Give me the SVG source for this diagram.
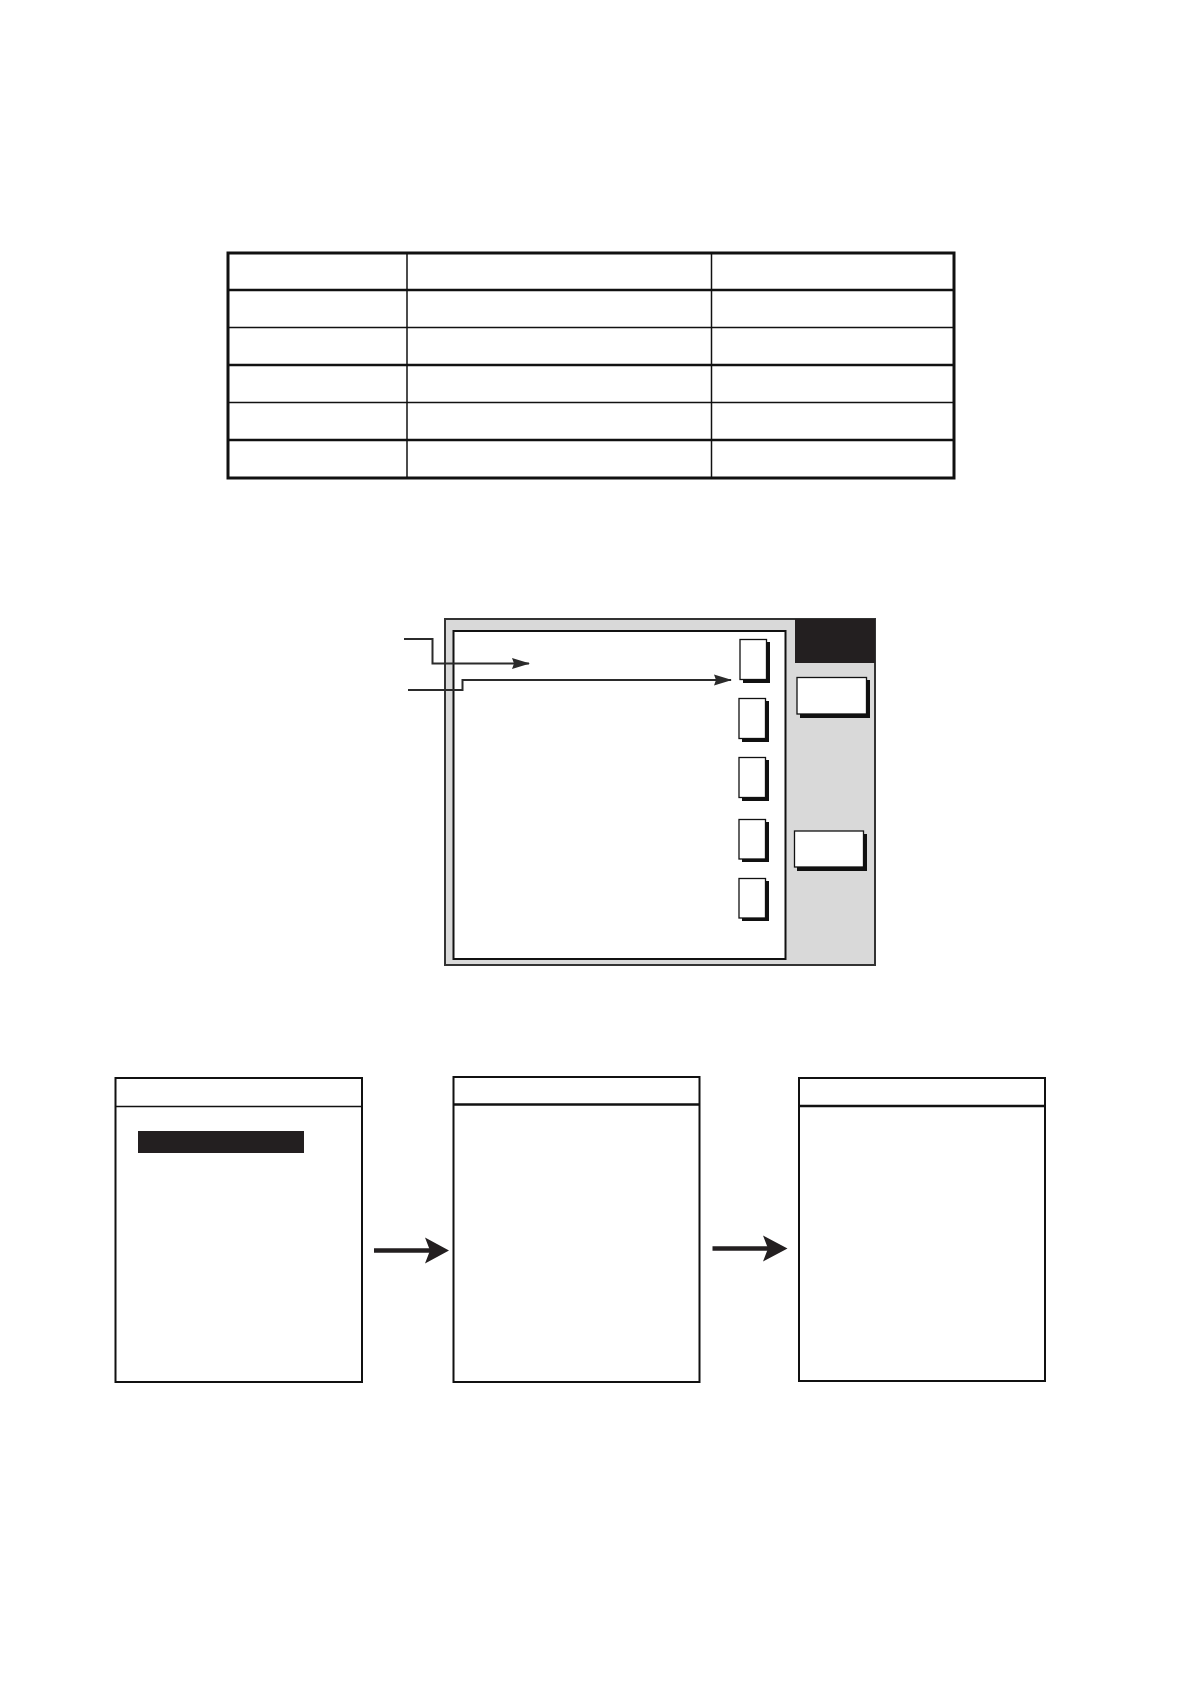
<svg xmlns="http://www.w3.org/2000/svg" width="1190" height="1684" viewBox="0 0 1190 1684">
<style>
.thin{stroke:#111;stroke-width:1.5;fill:none}
.thick{stroke:#111;stroke-width:2.6;fill:none}
.btn{fill:#fff;stroke:#111;stroke-width:1.3}
.shadow{fill:#111}
.panel{fill:#fff;stroke:#111;stroke-width:2}
.lead{stroke:#2b2b2b;stroke-width:2;fill:none}
</style>
<defs>
<marker id="ah" markerWidth="18" markerHeight="12" refX="17" refY="6" orient="auto" markerUnits="userSpaceOnUse">
<path d="M0,0.5 L18,6 L0,11.5 L2,6 Z" fill="#2b2b2b"/>
</marker>
</defs>
<rect width="1190" height="1684" fill="#fff"/>
<g id="table">
<rect x="228" y="253" width="726" height="225" fill="#fff" stroke="#111" stroke-width="3"/>
<line class="thick" x1="228" y1="290" x2="954" y2="290"/>
<line class="thin" x1="228" y1="327.5" x2="954" y2="327.5"/>
<line class="thick" x1="228" y1="365" x2="954" y2="365"/>
<line class="thin" x1="228" y1="402.5" x2="954" y2="402.5"/>
<line class="thick" x1="228" y1="440" x2="954" y2="440"/>
<line class="thin" x1="407" y1="253" x2="407" y2="478"/>
<line class="thin" x1="711.5" y1="253" x2="711.5" y2="478"/>
</g>
<g id="screen">
<rect x="445" y="619" width="430" height="346" fill="#d9d9d9" stroke="#333" stroke-width="2"/>
<rect x="795" y="619" width="80" height="44" fill="#231f20"/>
<rect x="453.5" y="631" width="332" height="328" fill="#fff" stroke="#111" stroke-width="2"/>
</g>
<g id="btn1"><rect class="shadow" x="743" y="642" width="27" height="41"/><rect class="btn" x="740" y="639.5" width="26.5" height="40"/></g>
<g id="btn2"><rect class="shadow" x="742" y="701" width="27" height="41"/><rect class="btn" x="739" y="698.5" width="26.5" height="40"/></g>
<g id="btn3"><rect class="shadow" x="742" y="760" width="27" height="41"/><rect class="btn" x="739" y="757.5" width="26.5" height="40"/></g>
<g id="btn4"><rect class="shadow" x="742" y="822" width="27" height="40"/><rect class="btn" x="739" y="819.5" width="26.5" height="39.5"/></g>
<g id="btn5"><rect class="shadow" x="742" y="881" width="27" height="40"/><rect class="btn" x="739" y="878.5" width="26.5" height="39.5"/></g>
<g id="btn6"><rect class="shadow" x="800" y="680" width="70" height="38"/><rect class="btn" x="797" y="677.5" width="69.5" height="36.5"/></g>
<g id="btn7"><rect class="shadow" x="797" y="834" width="70" height="37"/><rect class="btn" x="794.5" y="831" width="69" height="36"/></g>
<g id="menu1">
<rect class="panel" x="115.5" y="1078" width="246.5" height="304"/>
<line class="thin" x1="115.5" y1="1106.5" x2="362" y2="1106.5"/>
<rect x="138" y="1131" width="166" height="22" fill="#231f20"/>
</g>
<g id="menu2">
<rect class="panel" x="453.5" y="1077" width="246" height="305"/>
<line class="thick" x1="453.5" y1="1104.5" x2="699.5" y2="1104.5" stroke-width="2.2"/>
</g>
<g id="menu3">
<rect class="panel" x="799" y="1078" width="246" height="303"/>
<line class="thick" x1="799" y1="1106" x2="1045" y2="1106" stroke-width="2.2"/>
</g>
<g id="connectors">
<polyline class="lead" points="404,639 432.5,639 432.5,663.5 529,663.5" marker-end="url(#ah)"/>
<polyline class="lead" points="408,690 462.5,690 462.5,680 731,680" marker-end="url(#ah)"/>
<line x1="374" y1="1250.5" x2="430" y2="1250.5" stroke="#231f20" stroke-width="4.5"/>
<path d="M425,1237.5 L449,1250.5 L425,1263.5 L430,1250.5 Z" fill="#231f20"/>
<line x1="712.5" y1="1248.5" x2="768" y2="1248.5" stroke="#231f20" stroke-width="4.5"/>
<path d="M763,1235.5 L787.5,1248.5 L763,1261.5 L768,1248.5 Z" fill="#231f20"/>
</g>
</svg>
